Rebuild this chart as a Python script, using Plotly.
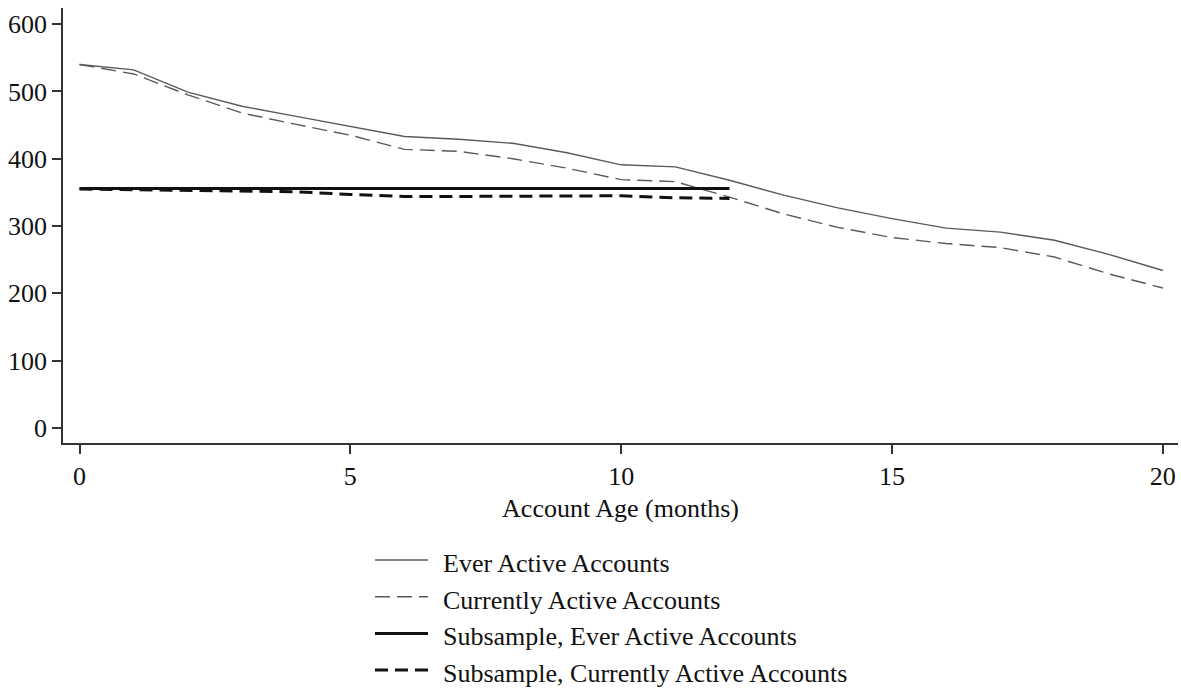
import plotly.graph_objects as go

# Account age in months
age_full = list(range(0, 21))
age_sub = list(range(0, 13))

# Average balances by account age
ever_active = [540, 532, 499, 478, 463, 448, 433, 429, 423, 409, 391, 388,
               368, 346, 327, 311, 297, 291, 279, 258, 234]
currently_active = [540, 526, 495, 468, 451, 435, 414, 411, 400, 386, 369, 366,
                    343, 318, 298, 283, 274, 268, 254, 229, 208]
sub_ever_active = [356, 356, 356, 356, 356, 356, 356, 356, 356, 356, 356, 356, 356]
sub_currently_active = [355, 354, 353, 352, 351, 347, 344, 344, 344, 345, 345, 342, 341]

series_names = ["Ever Active Accounts", "Currently Active Accounts",
                "Subsample, Ever Active Accounts", "Subsample, Currently Active Accounts"]

FONT = "Liberation Serif"
FS = 26
TXT = "#111111"

W, H = 1181, 690
ML, MR, MT, MB = 63, 3, 8, 247

styles = [
    dict(color="#5a5a5a", width=1.4),
    dict(color="#5a5a5a", width=1.4, dash="15px,7px"),
    dict(color="#111111", width=3),
    dict(color="#111111", width=3, dash="13px,7px"),
]
xs = [age_full, age_full, age_sub, age_sub]
ys = [ever_active, currently_active, sub_ever_active, sub_currently_active]

fig = go.Figure()
for name, x, y, st in zip(series_names, xs, ys, styles):
    fig.add_trace(go.Scatter(x=x, y=y, mode="lines", name=name, line=st,
                             showlegend=False))

# Legend block below the axis title: line sample plus label for each series
plot_w = W - ML - MR
plot_h = H - MT - MB


def px_x(p):
    return (p - ML) / plot_w


def px_y(p):
    return (H - MB - p) / plot_h


row_top = 560
row_gap = 36.7
for i, (name, st) in enumerate(zip(series_names, styles)):
    yrow = row_top + i * row_gap
    fig.add_shape(type="line", xref="paper", yref="paper",
                  x0=px_x(375), x1=px_x(428), y0=px_y(yrow), y1=px_y(yrow),
                  line=st)
    fig.add_annotation(xref="paper", yref="paper", x=px_x(441), y=px_y(yrow + 3.5),
                       text=name, showarrow=False, xanchor="left", yanchor="middle",
                       font=dict(family=FONT, size=FS, color=TXT))

axis_common = dict(
    showgrid=False, zeroline=False, showline=True, linecolor="#333333", linewidth=1.5,
    ticks="outside", ticklen=9, tickwidth=1.5, tickcolor="#333333",
    tickfont=dict(family=FONT, size=FS, color=TXT),
)

fig.update_layout(
    width=W, height=H,
    margin=dict(l=ML, r=MR, t=MT, b=MB),
    paper_bgcolor="white", plot_bgcolor="white",
    font=dict(family=FONT, size=FS, color=TXT),
    xaxis=dict(range=[-0.305, 20.28], tickvals=[0, 5, 10, 15, 20],
               title=dict(text="Account Age (months)", standoff=9,
                          font=dict(family=FONT, size=FS, color=TXT)),
               **axis_common),
    yaxis=dict(range=[-22.3, 624], tickvals=[0, 100, 200, 300, 400, 500, 600],
               **axis_common),
    showlegend=False,
)

fig.write_html("out.html")
